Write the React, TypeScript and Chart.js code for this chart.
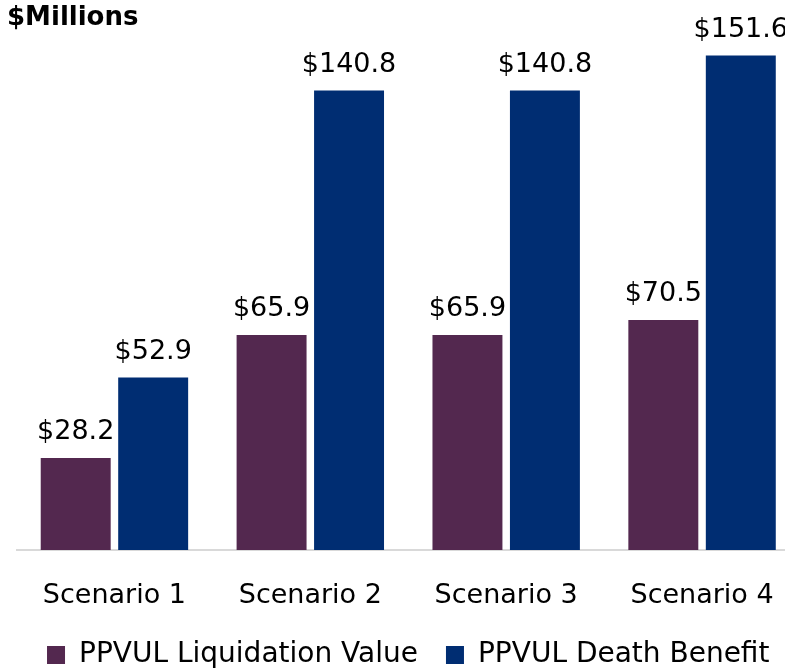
import React, { useEffect, useRef } from "react";
import { Chart, registerables } from "chart.js";

Chart.register(...registerables);

const categories = ["Scenario 1", "Scenario 2", "Scenario 3", "Scenario 4"];
const seriesNames = ["PPVUL Liquidation Value", "PPVUL Death Benefit"];
const liquidationValue = [28.2, 65.9, 65.9, 70.5];
const deathBenefit = [52.9, 140.8, 140.8, 151.6];
const titleText = "$Millions";

const PURPLE = "#53284F";
const BLUE = "#002D72";
const FONT = "'DejaVu Sans', sans-serif";

const valueLabels = {
  id: "valueLabels",
  afterDatasetsDraw(chart: any) {
    const ctx = chart.ctx;
    ctx.save();
    ctx.font = `27px ${FONT}`;
    ctx.fillStyle = "#000";
    ctx.textAlign = "center";
    ctx.textBaseline = "alphabetic";
    chart.data.datasets.forEach((ds: any, di: number) => {
      const meta = chart.getDatasetMeta(di);
      meta.data.forEach((el: any, i: number) => {
        const v = ds.data[i];
        ctx.fillText(`$${v.toFixed(1)}`, el.x, el.y - 18.5);
      });
    });
    ctx.restore();
  },
};

export default function App() {
  const ref = useRef<HTMLCanvasElement>(null);
  useEffect(() => {
    if (!ref.current) return;
    const chart = new Chart(ref.current, {
      type: "bar",
      data: {
        labels: categories,
        datasets: [
          {
            label: seriesNames[0],
            data: liquidationValue,
            backgroundColor: PURPLE,
            categoryPercentage: 0.791,
            barPercentage: 0.903,
          },
          {
            label: seriesNames[1],
            data: deathBenefit,
            backgroundColor: BLUE,
            categoryPercentage: 0.791,
            barPercentage: 0.903,
          },
        ],
      },
      options: {
        responsive: false,
        animation: false,
        layout: { padding: { left: 7, right: 23, top: 0, bottom: 1 } },
        scales: {
          x: {
            grid: { display: false, drawTicks: false },
            border: { display: true, color: "#d9d9d9", width: 2 },
            ticks: { color: "#000", font: { family: FONT, size: 27 }, padding: 30 },
            afterFit: (s: any) => {
              s.height = 63;
            },
          },
          y: {
            min: 0,
            max: 160,
            grid: { display: false, drawTicks: false },
            border: { display: false },
            ticks: { display: false },
            afterFit: (s: any) => {
              s.width = 9.5;
            },
          },
        },
        plugins: {
          title: {
            display: true,
            text: titleText,
            align: "start",
            color: "#000",
            font: { family: FONT, size: 26, weight: "bold", lineHeight: 0.73 },
            padding: { top: 9, bottom: 0 },
          },
          legend: {
            position: "bottom",
            fullSize: false,
            labels: {
              color: "#000",
              font: { family: FONT, size: 28 },
              boxWidth: 18,
              boxHeight: 18,
              padding: 28,
            },
          },
          tooltip: { enabled: false },
        },
      },
      plugins: [valueLabels],
    });
    return () => chart.destroy();
  }, []);
  return (
    <div
      style={{
        position: "fixed",
        left: 0,
        top: 0,
        width: 785,
        height: 670,
        overflow: "hidden",
        background: "#fff",
      }}
    >
      <canvas ref={ref} width={823} height={680} style={{ display: "block" }} />
    </div>
  );
}
